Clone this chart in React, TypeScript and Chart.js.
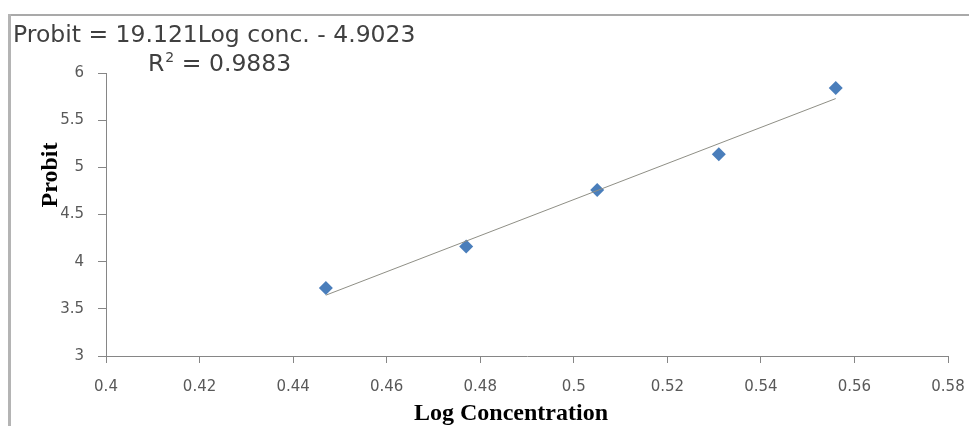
import React, { useEffect, useRef } from "react";
import { Chart, registerables } from "chart.js";

Chart.register(...registerables);

const logConc = [0.447, 0.477, 0.505, 0.531, 0.556];
const probit = [3.72, 4.16, 4.76, 5.14, 5.84];
const slope = 19.121;
const intercept = -4.9023;
const rSquared = "0.9883";
const xTicks = [0.4, 0.42, 0.44, 0.46, 0.48, 0.5, 0.52, 0.54, 0.56, 0.58];
const yTicks = [3, 3.5, 4, 4.5, 5, 5.5, 6];
const xTitle = "Log Concentration";
const yTitle = "Probit";
const equationText = `Probit = ${slope}Log conc. - ${Math.abs(intercept)}`;

const W = 969;
const H = 426;

const decorPlugin = {
  id: "decor",
  beforeDraw(chart: any) {
    const ctx = chart.ctx;
    ctx.save();
    ctx.fillStyle = "#ffffff";
    ctx.fillRect(0, 0, chart.width, chart.height);
    ctx.strokeStyle = "#a9a9a9";
    ctx.lineWidth = 2;
    ctx.beginPath();
    ctx.moveTo(9, 15);
    ctx.lineTo(chart.width, 15);
    ctx.stroke();
    ctx.strokeStyle = "#b4b4b4";
    ctx.lineWidth = 3;
    ctx.beginPath();
    ctx.moveTo(9.5, 14);
    ctx.lineTo(9.5, chart.height);
    ctx.stroke();
    ctx.restore();
  },
  afterDraw(chart: any) {
    const ctx = chart.ctx;
    ctx.save();
    ctx.fillStyle = "#404040";
    ctx.font = '23.5px "DejaVu Sans"';
    ctx.textBaseline = "alphabetic";
    ctx.textAlign = "left";
    ctx.fillText(equationText, 13, 42);
    ctx.fillText("R", 148, 71);
    const rw = ctx.measureText("R").width;
    ctx.font = '14px "DejaVu Sans"';
    ctx.fillText("2", 148 + rw + 1, 62);
    ctx.font = '23.5px "DejaVu Sans"';
    ctx.fillText(" = " + rSquared, 148 + rw + 10, 71);

    ctx.fillStyle = "#000000";
    ctx.font = 'bold 24px "Liberation Serif"';
    ctx.textAlign = "center";
    ctx.fillText(xTitle, 511, 420);

    ctx.translate(57, 175);
    ctx.rotate(-Math.PI / 2);
    ctx.font = 'bold 24px "Liberation Serif"';
    ctx.fillText(yTitle, 0, 0);
    ctx.restore();
  },
};

export default function App() {
  const ref = useRef<HTMLCanvasElement | null>(null);
  useEffect(() => {
    if (!ref.current) return;
    const xMin = logConc[0];
    const xMax = logConc[logConc.length - 1];
    const chart = new Chart(ref.current, {
      type: "scatter",
      data: {
        datasets: [
          {
            type: "line",
            label: "Trend",
            data: [
              { x: xMin, y: slope * xMin + intercept },
              { x: xMax, y: slope * xMax + intercept },
            ],
            borderColor: "#8f8f86",
            borderWidth: 1,
            pointRadius: 0,
            fill: false,
          },
          {
            label: "Probit",
            data: logConc.map((x, i) => ({ x, y: probit[i] })),
            pointStyle: "rectRot",
            pointRadius: 7,
            backgroundColor: "#4a7ebb",
            borderColor: "#4a7ebb",
            borderWidth: 0,
          },
        ],
      },
      options: {
        animation: false,
        responsive: true,
        maintainAspectRatio: false,
        layout: { padding: { left: 0, top: 73, right: 21, bottom: 0 } },
        plugins: { legend: { display: false }, tooltip: { enabled: false } },
        scales: {
          x: {
            type: "linear",
            min: 0.4,
            max: 0.58,
            afterBuildTicks: (s: any) => {
              s.ticks = xTicks.map((v) => ({ value: v }));
            },
            afterFit: (s: any) => {
              s.height = 70;
              s.paddingLeft = 0;
              s.paddingRight = 0;
            },
            ticks: {
              font: { family: "DejaVu Sans", size: 15 },
              color: "#595959",
              padding: 15,
              maxRotation: 0,
              callback: (v: any) => String(Number(Number(v).toFixed(2))),
            },
            grid: { drawOnChartArea: false, tickLength: 7, color: "#868686" },
            border: { color: "#868686", width: 1 },
          },
          y: {
            type: "linear",
            min: 3,
            max: 6,
            afterBuildTicks: (s: any) => {
              s.ticks = yTicks.map((v) => ({ value: v }));
            },
            afterFit: (s: any) => {
              s.width = 106;
              s.paddingTop = 0;
              s.paddingBottom = 0;
            },
            ticks: {
              font: { family: "DejaVu Sans", size: 15 },
              color: "#595959",
              padding: 14,
              callback: (v: any) => String(Number(Number(v).toFixed(1))),
            },
            grid: { drawOnChartArea: false, tickLength: 8, color: "#868686" },
            border: { color: "#868686", width: 1 },
          },
        },
      },
      plugins: [decorPlugin],
    } as any);
    return () => chart.destroy();
  }, []);
  return (
    <div style={{ position: "fixed", left: 0, top: 0, width: W, height: H, background: "#fff" }}>
      <canvas ref={ref} />
    </div>
  );
}
